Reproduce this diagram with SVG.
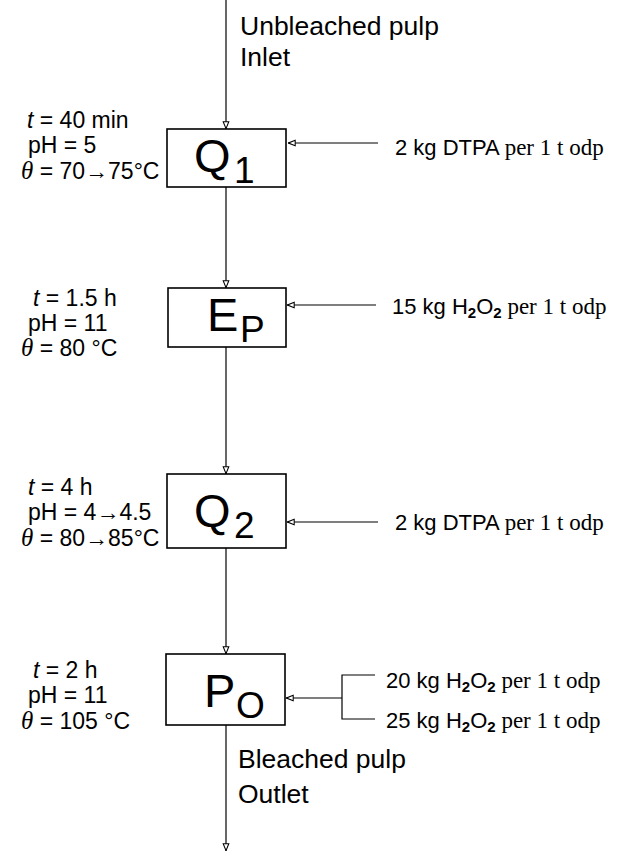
<svg xmlns="http://www.w3.org/2000/svg" width="626" height="852" viewBox="0 0 626 852">
<style>
.box{fill:#fff;stroke:#000;stroke-width:1.6}
.ln{fill:none;stroke:#000;stroke-width:1.2}
.big{font-family:"Liberation Sans",Arial,sans-serif;font-size:47px;fill:#000}
.sub{font-family:"Liberation Sans",Arial,sans-serif;font-size:37px;fill:#000}
.lab{font-family:"Liberation Sans",Arial,sans-serif;font-size:26.5px;fill:#000}
.par{font-family:"Liberation Sans",Arial,sans-serif;font-size:23px;fill:#000}
.rt{font-family:"Liberation Sans",Arial,sans-serif;font-size:22px;fill:#000}
.it{font-style:italic}
.th{font-family:"Liberation Serif","Times New Roman",serif;font-style:italic;font-size:25px}
.tm{font-family:"Liberation Serif","Times New Roman",serif;font-size:23px}
.s2{font-size:15px;font-weight:bold}
</style>
<defs>
<marker id="ah" viewBox="0 0 10 10" refX="10" refY="5" markerWidth="8" markerHeight="8" orient="auto" markerUnits="userSpaceOnUse">
<path d="M1,1.5 L9.5,5 L1,8.5 Z" fill="#fff" stroke="#000" stroke-width="1.3"/>
</marker>
</defs>
<g id="connectors" class="ln">
<path d="M226,0 V129" marker-end="url(#ah)"/>
<path d="M226,187 V288" marker-end="url(#ah)"/>
<path d="M226,347 V474" marker-end="url(#ah)"/>
<path d="M226,548 V654" marker-end="url(#ah)"/>
<path d="M226,725 V851" marker-end="url(#ah)"/>
<path d="M378,143 H288" marker-end="url(#ah)"/>
<path d="M376,305 H287" marker-end="url(#ah)"/>
<path d="M378,522 H287" marker-end="url(#ah)"/>
<path d="M375,675 H342 V719 H375"/>
<path d="M342,698 H286" marker-end="url(#ah)"/>
</g>
<g id="inlet">
<text class="lab" x="240" y="35">Unbleached pulp</text>
<text class="lab" x="240" y="66">Inlet</text>
</g>
<g id="Q1">
<rect class="box" x="167" y="129" width="119" height="58" stroke-width="2.2"/>
<text class="big" x="194" y="172">Q</text>
<text class="sub" x="234" y="183">1</text>
</g>
<g id="Q1-cond" class="par">
<text x="27" y="128"><tspan class="it">t</tspan> = 40 min</text>
<text x="28" y="153">pH = 5</text>
<text x="21" y="179"><tspan class="th">θ</tspan> = 70→75°C</text>
</g>
<g id="Q1-add">
<text x="395" y="155"><tspan class="rt">2 kg DTPA </tspan><tspan class="tm"> per 1 t odp</tspan></text>
</g>
<g id="EP">
<rect class="box" x="168" y="288" width="118" height="59"/>
<text class="big" x="207" y="331">E</text>
<text class="sub" x="240" y="342">P</text>
</g>
<g id="EP-cond" class="par">
<text x="33" y="306"><tspan class="it">t</tspan> = 1.5 h</text>
<text x="28" y="331">pH = 11</text>
<text x="21" y="356"><tspan class="th">θ</tspan> = 80 °C</text>
</g>
<g id="EP-add">
<text x="392" y="314"><tspan class="rt">15 kg H</tspan><tspan class="rt s2" dy="4">2</tspan><tspan class="rt" dy="-4">O</tspan><tspan class="rt s2" dy="4">2</tspan><tspan class="tm" dy="-4"> per 1 t odp</tspan></text>
</g>
<g id="Q2">
<rect class="box" x="167" y="474" width="119" height="74"/>
<text class="big" x="194" y="527">Q</text>
<text class="sub" x="234" y="538">2</text>
</g>
<g id="Q2-cond" class="par">
<text x="28" y="495"><tspan class="it">t</tspan> = 4 h</text>
<text x="28" y="520">pH = 4→4.5</text>
<text x="21" y="546"><tspan class="th">θ</tspan> = 80→85°C</text>
</g>
<g id="Q2-add">
<text x="395" y="530"><tspan class="rt">2 kg DTPA </tspan><tspan class="tm"> per 1 t odp</tspan></text>
</g>
<g id="PO">
<rect class="box" x="166" y="654" width="119" height="71"/>
<text class="big" x="204" y="707">P</text>
<text class="sub" x="236" y="718">O</text>
</g>
<g id="PO-cond" class="par">
<text x="33" y="678"><tspan class="it">t</tspan> = 2 h</text>
<text x="28" y="703">pH = 11</text>
<text x="21" y="729"><tspan class="th">θ</tspan> = 105 °C</text>
</g>
<g id="PO-add">
<text x="386" y="688"><tspan class="rt">20 kg H</tspan><tspan class="rt s2" dy="4">2</tspan><tspan class="rt" dy="-4">O</tspan><tspan class="rt s2" dy="4">2</tspan><tspan class="tm" dy="-4"> per 1 t odp</tspan></text>
<text x="386" y="728"><tspan class="rt">25 kg H</tspan><tspan class="rt s2" dy="4">2</tspan><tspan class="rt" dy="-4">O</tspan><tspan class="rt s2" dy="4">2</tspan><tspan class="tm" dy="-4"> per 1 t odp</tspan></text>
</g>
<g id="outlet">
<text class="lab" x="238" y="768">Bleached pulp</text>
<text class="lab" x="238" y="803">Outlet</text>
</g>
</svg>
